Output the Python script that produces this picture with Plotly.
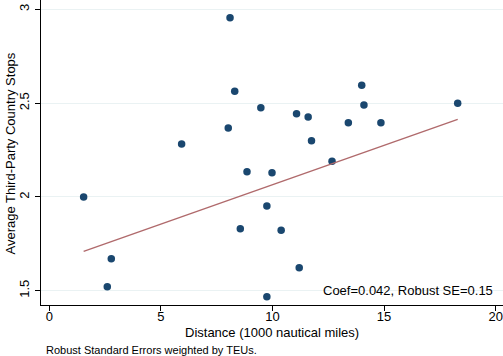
import plotly.graph_objects as go

# Scatter data: distance (1000 nautical miles) vs average third-party country stops
distance = [1.54, 2.78, 2.60, 8.10, 8.31, 9.48, 11.08, 11.60, 8.02, 5.93, 11.75,
            12.67, 8.86, 9.98, 9.75, 8.56, 10.39, 11.20, 9.75, 14.00, 14.10,
            13.40, 14.86, 18.30]
stops = [2.00, 1.671, 1.521, 2.955, 2.564, 2.475, 2.443, 2.426, 2.367, 2.282, 2.300,
         2.190, 2.134, 2.129, 1.952, 1.831, 1.822, 1.623, 1.468, 2.596, 2.490,
         2.396, 2.396, 2.500]

# Weighted fitted line (endpoints)
fit_x = [1.54, 18.30]
fit_y = [1.710, 2.414]

x_ticks = [0, 5, 10, 15, 20]
y_ticks = [1.5, 2, 2.5, 3]
y_tick_labels = ["1.5", "2", "2.5", "3"]

note_text = "Coef=0.042, Robust SE=0.15"
note_pos = (20, 1.5)
footnote = "Robust Standard Errors weighted by TEUs."

FONT = "Liberation Sans, Arial, Helvetica, sans-serif"

fig = go.Figure()
fig.add_trace(go.Scatter(
    x=distance, y=stops, mode="markers",
    marker=dict(color="#1a476f", size=7.5, line=dict(width=0)),
    showlegend=False, hoverinfo="skip"))
fig.add_trace(go.Scatter(
    x=fit_x, y=fit_y, mode="lines",
    line=dict(color="#b06a6c", width=1.4),
    showlegend=False, hoverinfo="skip"))

fig.add_annotation(x=note_pos[0], y=note_pos[1], xref="x", yref="y",
                   text=note_text, showarrow=False, xanchor="right", yanchor="middle",
                   xshift=-1, font=dict(family=FONT, size=13, color="black"))
fig.add_annotation(x=0, y=0, xref="paper", yref="paper", xanchor="left", yanchor="top",
                   text=footnote, showarrow=False, xshift=3, yshift=-37,
                   font=dict(family=FONT, size=11, color="black"))
fig.add_annotation(x=0.5, y=0, xref="paper", yref="paper", xanchor="center", yanchor="top",
                   text="Distance (1000 nautical miles)", showarrow=False, yshift=-18,
                   font=dict(family=FONT, size=13, color="black"))
fig.add_annotation(x=0, y=0.5, xref="paper", yref="paper", xanchor="center", yanchor="middle",
                   text="Average Third-Party Country Stops", showarrow=False, textangle=-90,
                   xshift=-31, yshift=-1,
                   font=dict(family=FONT, size=13, color="black"))

fig.update_layout(
    width=503, height=356, autosize=False,
    margin=dict(l=41, r=0, t=0, b=51),
    paper_bgcolor="white", plot_bgcolor="white",
    font=dict(family=FONT, size=13, color="black"),
)
fig.update_xaxes(range=[-0.37, 20.33], tickvals=x_ticks, showgrid=False, zeroline=False,
                 showline=True, linecolor="black", linewidth=1, automargin=False,
                 ticks="outside", ticklen=5, tickcolor="black", tickwidth=1,
                 ticklabelstandoff=-6,
                 tickfont=dict(family=FONT, size=13))
fig.update_yaxes(range=[1.424, 3.05], tickvals=y_ticks, ticktext=y_tick_labels,
                 showgrid=True, gridcolor="#eaf2f3", gridwidth=1, zeroline=False,
                 showline=True, linecolor="black", linewidth=1, automargin=False,
                 ticks="outside", ticklen=5, tickcolor="black", tickwidth=1,
                 ticklabelstandoff=1,
                 tickangle=-90, tickfont=dict(family=FONT, size=13))

fig.write_html("out.html", config={"displayModeBar": False},
               post_script="document.body.style.margin='0';document.body.style.overflow='hidden';")
